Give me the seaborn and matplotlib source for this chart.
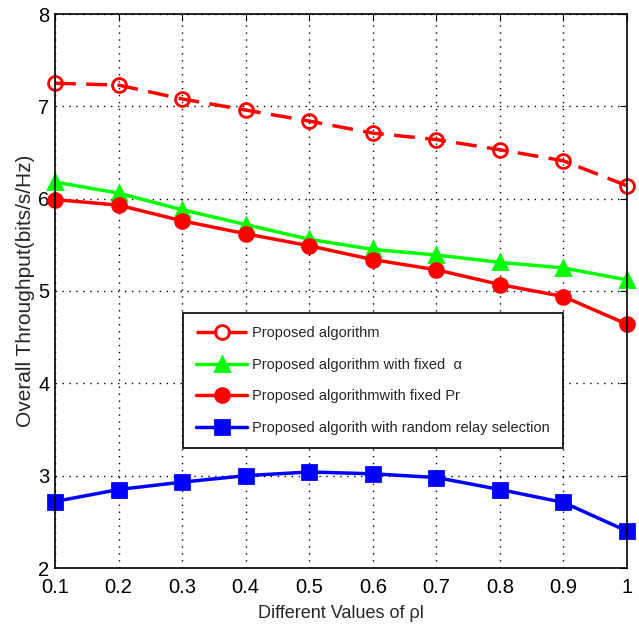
import matplotlib
matplotlib.use("Agg")
import matplotlib.pyplot as plt
import seaborn as sns
import pandas as pd

x_values = [0.1, 0.2, 0.3, 0.4, 0.5, 0.6, 0.7, 0.8, 0.9, 1.0]
proposed = [7.25, 7.23, 7.08, 6.96, 6.84, 6.71, 6.64, 6.53, 6.41, 6.14]
fixed_alpha = [6.18, 6.06, 5.88, 5.72, 5.56, 5.45, 5.39, 5.31, 5.25, 5.12]
fixed_pr = [5.99, 5.93, 5.76, 5.62, 5.49, 5.34, 5.23, 5.07, 4.94, 4.64]
random_relay = [2.72, 2.85, 2.93, 3.00, 3.04, 3.02, 2.98, 2.85, 2.71, 2.40]

labels = ["Proposed algorithm",
          "Proposed algorithm with fixed  \u03b1",
          "Proposed algorithmwith fixed Pr",
          "Proposed algorith with random relay selection"]
xticks = [0.1, 0.2, 0.3, 0.4, 0.5, 0.6, 0.7, 0.8, 0.9, 1]
xtick_labels = ["0.1", "0.2", "0.3", "0.4", "0.5", "0.6", "0.7", "0.8", "0.9", "1"]
yticks = [2, 3, 4, 5, 6, 7, 8]

sns.set_style("white")
plt.rcParams["font.family"] = ["Liberation Sans", "DejaVu Sans"]

fig = plt.figure(figsize=(6.39, 6.31), dpi=100)
ax = fig.add_axes([55/639, 1 - 568/631, (627-55)/639, (568-14)/631])

series = [
    (proposed, labels[0], "red", "o", (0, (6, 3)), "none"),
    (fixed_alpha, labels[1], "#00ff00", "^", "-", "#00ff00"),
    (fixed_pr, labels[2], "red", "o", "-", "red"),
    (random_relay, labels[3], "blue", "s", "-", "blue"),
]
for vals, lab, col, mk, ls, mfc in series:
    df = pd.DataFrame({"x": x_values, "y": vals})
    sns.lineplot(data=df, x="x", y="y", ax=ax, color=col, marker=mk,
                 linestyle=ls, linewidth=2.5, markersize=10,
                 markerfacecolor=mfc, markeredgecolor=col, markeredgewidth=2,
                 label=lab, clip_on=False, zorder=3)

ax.set_xlim(0.1, 1.0)
ax.set_ylim(2, 8)
ax.set_xticks(xticks)
ax.set_xticklabels(xtick_labels)
ax.set_yticks(yticks)
ax.grid(True, color="black", linestyle=(0, (1, 4)), linewidth=1)
ax.tick_params(direction="in", length=5, top=True, right=True,
               labelsize=14.5, colors="black")
ax.tick_params(axis="x", pad=7)
ax.tick_params(axis="y", pad=4)
for s in ax.spines.values():
    s.set_color("black")
    s.set_linewidth(1.2)
    s.set_zorder(4)
ax.set_xlabel("Different Values of \u03c1l", fontsize=13, labelpad=6)
ax.set_ylabel("Overall Throughput(bits/s/Hz)", fontsize=15, labelpad=2)

leg = ax.legend(loc="lower left", bbox_to_anchor=(0.224, 0.217),
                fontsize=10.5, frameon=True, fancybox=False,
                edgecolor="black", handlelength=3.5, labelspacing=1.2,
                borderpad=0.9, handletextpad=0.35, borderaxespad=0)
leg.get_frame().set_linewidth(1.2)
leg.get_frame().set_alpha(1)
leg.set_zorder(5)

fig.savefig("out.png", dpi=100)
